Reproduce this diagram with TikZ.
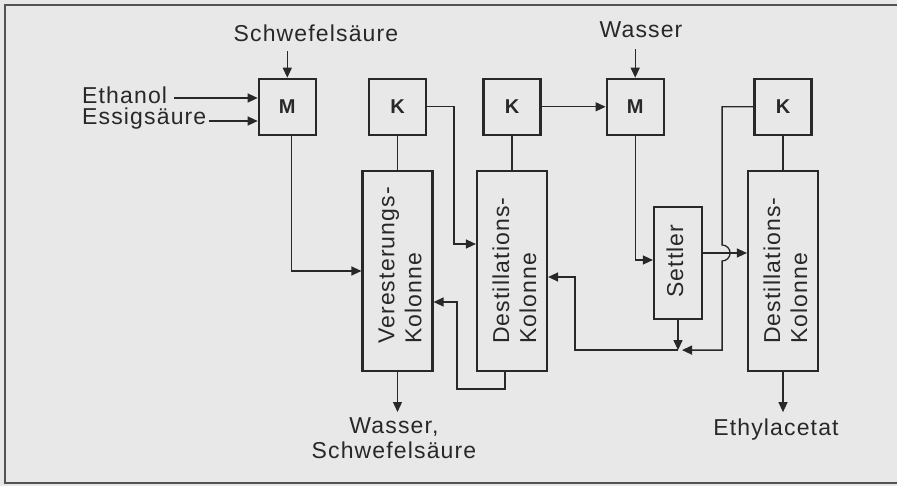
\documentclass[tikz,border=0pt]{standalone}
\usepackage{fontspec}
\setmainfont{Liberation Sans}[LetterSpace=5]
\usetikzlibrary{positioning, arrows.meta, calc}

\definecolor{paper}{RGB}{232,232,232}
\definecolor{ink}{RGB}{40,40,40}

\begin{document}
\begin{tikzpicture}[
        x=1pt, y=-1pt,
        node distance=34pt and 51pt,
        box/.style={draw=ink, line width=2.2pt, minimum width=57pt, minimum height=56pt, inner sep=0pt, text=ink, font=\fontsize{20}{24}\selectfont\bfseries},
        column/.style={draw=ink, line width=2.2pt, minimum width=70pt, minimum height=200pt, inner sep=0pt},
        coltext/.style={rotate=90, align=left, inner sep=0pt, anchor=west, text=ink, font=\fontsize{23}{27}\selectfont},
        lbl/.style={inner sep=0pt, text=ink, font=\fontsize{23}{25}\selectfont},
        arrow/.style={-{Triangle[length=10pt, width=9pt]}, line width=1.3pt, draw=ink},
        line/.style={line width=1.3pt, draw=ink}
    ]

    % background and frame
    \fill[paper] (0,0) rectangle (897,486);
    \useasboundingbox (0,0) rectangle (897,486);
    \draw[ink!80, line width=1.5pt] (897,5) -- (5,5) -- (5,483) -- (897,483);

    % columns
    \node[column] (reactor) at (397.5,271) {};
    \node[column] (dist1) at (512,271) {};
    \node[column] (dist2) at (783,271) {};
    \node[column, minimum width=48pt, minimum height=112pt] (settler) at (678,263) {};

    \node[coltext] at ([xshift=2.5pt, yshift=28pt]reactor.south) {Veresterungs-\\Kolonne};
    \node[coltext] at ([xshift=2.5pt, yshift=28pt]dist1.south) {Destillations-\\Kolonne};
    \node[coltext] at ([xshift=2.5pt, yshift=28pt]dist2.south) {Destillations-\\Kolonne};
    \node[coltext] at ([xshift=-3pt, yshift=-35pt]settler.center) {Settler};

    % mixers and condensers
    \node[box, above=of reactor] (cond1) {K};
    \node[box, above=of dist1] (cond2) {K};
    \node[box, above=of dist2] (cond3) {K};
    \node[box, left=of cond1] (mixer1) {M};
    \node[box, right=64pt of cond2] (mixer2) {M};

    % feeds and products
    \node[lbl, anchor=base] (acid) at (316,41.5) {Schwefelsäure};
    \node[lbl, anchor=base west] (ethanol) at (82,104) {Ethanol};
    \node[lbl, anchor=base west] (vinegar) at (82,125) {Essigsäure};
    \node[lbl, anchor=base] (water) at (641,38) {Wasser};
    \node[lbl, align=center, anchor=north] (waste) at (394,417) {Wasser,\\Schwefelsäure};
    \node[lbl, anchor=base] (product) at (776,435) {Ethylacetat};

    \coordinate (ethin) at ([xshift=7pt, yshift=6pt]ethanol.base east);
    \coordinate (vinin) at ([xshift=2pt, yshift=4pt]vinegar.base east);
    \coordinate (junc) at ([yshift=-30pt]settler.south);
    \coordinate (hop) at ([xshift=19pt, yshift=10pt]settler.east);

    \draw[arrow] ([yshift=-9.5pt]acid.south -| mixer1.north) -- (mixer1.north);
    \draw[arrow] (ethin) -- (ethin -| mixer1.west);
    \draw[arrow] (vinin) -- (vinin -| mixer1.west);
    \draw[arrow] ([yshift=-11pt]water.south -| mixer2.north) -- (mixer2.north);

    \draw[arrow] ([xshift=4.5pt]mixer1.south) |- (reactor.west);
    \draw[line] (cond1) -- (reactor);
    \draw[line] (cond2) -- (dist1);
    \draw[line] (cond3.south) -- (cond3.south |- dist2.north);

    \draw[arrow] (cond1.east) -- ++(27,0) |- ([yshift=27pt]dist1.west);
    \draw[arrow] (cond2) -- (mixer2);
    \draw[arrow] (mixer2.south) |- ([yshift=3pt]settler.west);
    \draw[arrow] ([yshift=10pt]settler.east) -- ([yshift=10pt]settler.east -| dist2.west);

    % return from the last condenser, hopping over the settler line
    \draw[arrow] (cond3.west) -| ([yshift=8pt]hop)
        arc[start angle=90, end angle=-90, radius=8pt] -- (hop |- junc) -- ([xshift=4pt]junc);
    \draw[arrow] (settler.south) -- (junc);
    \draw[arrow] (junc) -- ++(-103,0) |- ([yshift=-6pt]dist1.east);

    \draw[arrow] ([xshift=-7pt]dist1.south) -- ++(0,17) -- ++(-48,0) |- ([yshift=-31pt]reactor.east);

    \draw[arrow] (reactor.south) -- ([yshift=5pt]reactor.south |- waste.north);
    \draw[arrow] (dist2.south) -- ([yshift=6pt]dist2.south |- product.north);

\end{tikzpicture}
\end{document}
